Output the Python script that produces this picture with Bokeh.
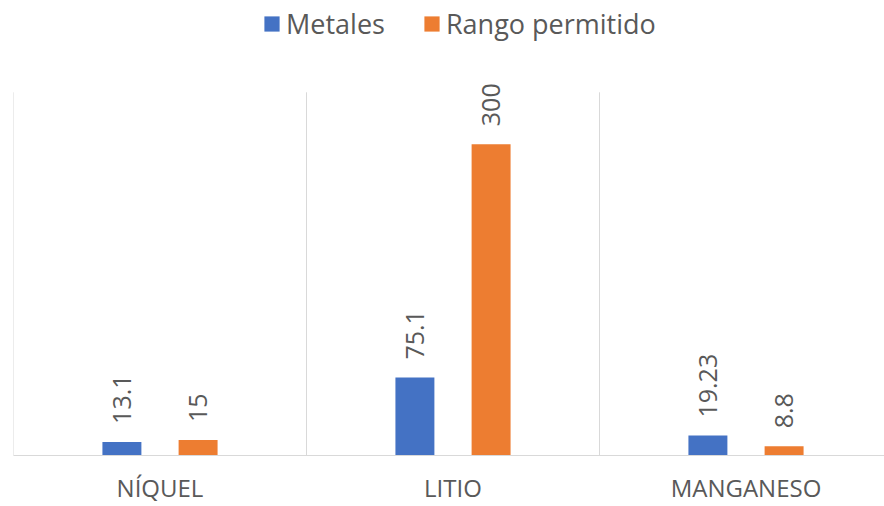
from math import pi
from bokeh.plotting import figure
from bokeh.models import ColumnDataSource, FixedTicker, Range1d, Legend, LegendItem
from bokeh.transform import dodge
from bokeh.core.properties import value
from bokeh.embed import file_html
from bokeh.resources import INLINE

# ---- data ----
categories = ["NÍQUEL", "LITIO", "MANGANESO"]
metales = [13.1, 75.1, 19.23]
rango_permitido = [15, 300, 8.8]
series_names = ["Metales", "Rango permitido"]
y_max = 350

BLUE = "#4472C4"
ORANGE = "#ED7D31"
GRAY = "#595959"
LINE = "#d9d9d9"
FONT = "Open Sans"

n = len(categories)
src = ColumnDataSource(dict(
    x=list(range(n)),
    metales=metales,
    rango=rango_permitido,
    lab_m=[f"{v:g}" for v in metales],
    lab_r=[f"{v:g}" for v in rango_permitido],
))
sep = ColumnDataSource(dict(x=[i - 0.5 for i in range(n)], y0=[0] * n, y1=[y_max] * n))

FRAME_H = 456
p = figure(width=884, height=506, output_backend="svg", toolbar_location=None,
           x_range=Range1d(-0.5, -0.5 + 871 / 293),
           y_range=Range1d(0, y_max * FRAME_H / 364),
           min_border_left=13, min_border_right=0, min_border_top=0, min_border_bottom=50)

# category separators
p.segment(x0="x", y0="y0", x1="x", y1="y1", source=sep, line_color=LINE, line_width=1)

off = 0.13
bw = 0.133
r1 = p.vbar(x=dodge("x", -off, range=p.x_range), top="metales", width=bw, source=src,
            fill_color=BLUE, line_color=None)
r2 = p.vbar(x=dodge("x", off, range=p.x_range), top="rango", width=bw, source=src,
            fill_color=ORANGE, line_color=None)

for key, d, ycol in (("lab_m", -off, "metales"), ("lab_r", off, "rango")):
    p.text(x=dodge("x", d, range=p.x_range), y=ycol, text=key, source=src,
           angle=pi / 2, text_align="left", text_baseline="middle", y_offset=-18,
           text_font=value(FONT), text_font_size="25px", text_color=GRAY)

legend = Legend(items=[LegendItem(label=series_names[0], renderers=[r1]),
                       LegendItem(label=series_names[1], renderers=[r2])],
                orientation="horizontal", location=(249, FRAME_H - 7 - 36),
                label_text_font=FONT, label_text_font_size="27px", label_text_color=GRAY,
                glyph_width=19, glyph_height=19, spacing=37, label_standoff=5,
                border_line_color=None, background_fill_alpha=0, padding=0, margin=0)
p.add_layout(legend, "center")

p.outline_line_color = None
p.yaxis.visible = False
p.ygrid.visible = False
p.xgrid.visible = False

ax = p.xaxis[0]
ax.ticker = FixedTicker(ticks=list(range(n)))
ax.major_label_overrides = {i: c for i, c in enumerate(categories)}
ax.major_tick_line_color = None
ax.minor_tick_line_color = None
ax.axis_line_color = LINE
ax.major_label_text_font = FONT
ax.major_label_text_font_size = "24px"
ax.major_label_text_color = GRAY
ax.major_label_standoff = 9

open("out.html", "w").write(file_html(p, INLINE))
